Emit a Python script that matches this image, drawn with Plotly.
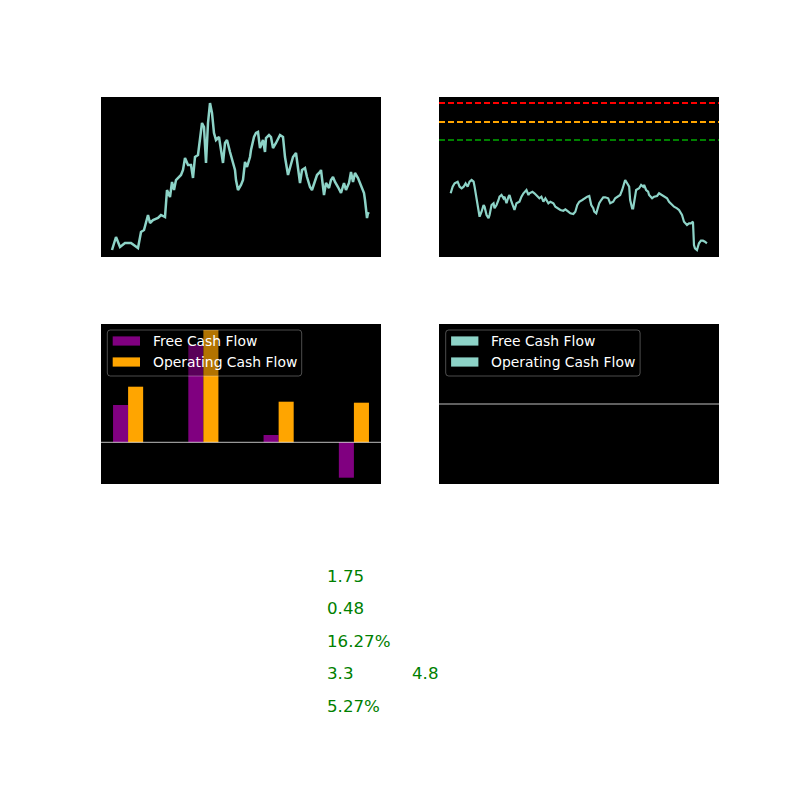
import plotly.graph_objects as go

# ---------------- data ----------------
price_days = [0, 4, 8, 13, 19, 24, 26, 29, 32, 36, 38, 41, 46, 49, 53, 55, 58, 60, 62, 64,
              69, 71, 73, 76, 79, 81, 83, 86, 88, 90, 92, 94, 96, 98, 100, 102, 104, 107, 109, 111,
              113, 115, 118, 120, 123, 124, 126, 129, 131, 133, 135, 138, 139, 142, 144, 146, 148, 151, 153, 154,
              157, 159, 161, 164, 168, 171, 173, 176, 179, 181, 184, 186, 188, 190, 193, 195, 198, 200, 203, 205,
              208, 209, 212, 214, 217, 219, 221, 223, 226, 229, 232, 234, 237, 239, 241, 243, 246, 249, 252, 253,
              255, 256, 257]
price_vals = [2.0, 4.6, 2.6, 3.4, 3.4, 2.6, 2.4, 5.6, 6.0, 9.0, 7.4, 8.0, 8.4, 9.0, 8.6, 14.0, 12.6, 15.6, 14.0, 16.0,
              17.0, 18.0, 20.4, 19.0, 19.0, 16.4, 20.6, 21.0, 24.6, 27.4, 26.6, 19.4, 27.4, 31.4, 29.4, 25.4, 24.0, 24.6, 22.0, 19.4,
              23.4, 24.0, 21.6, 20.0, 18.0, 16.0, 14.0, 15.0, 16.0, 19.6, 18.6, 20.6, 22.0, 24.6, 25.4, 25.6, 22.4, 24.0, 21.6, 24.4,
              25.0, 24.6, 22.4, 23.4, 25.0, 24.6, 20.6, 17.0, 19.0, 20.6, 21.4, 18.0, 15.4, 18.0, 18.4, 16.6, 14.6, 14.0, 16.0, 17.0,
              17.6, 18.0, 13.0, 15.4, 14.4, 16.0, 16.6, 15.6, 14.6, 13.4, 15.4, 14.0, 15.4, 17.6, 15.6, 17.4, 16.4, 15.0, 13.4, 12.0,
              8.4, 9.4, 9.2]

ratio_days = [0, 2, 4, 7, 9, 11, 13, 15, 17, 19, 21, 23, 24, 26, 28, 29, 31, 33, 34, 36,
              38, 39, 41, 43, 44, 46, 48, 49, 51, 53, 54, 56, 58, 59, 61, 63, 64, 66, 69, 71,
              73, 76, 78, 79, 82, 84, 87, 89, 91, 93, 95, 98, 100, 103, 105, 108, 110, 113, 115, 118,
              120, 123, 125, 127, 129, 132, 134, 137, 139, 141, 143, 144, 146, 148, 149, 151, 153, 155, 158, 160,
              163, 165, 168, 170, 172, 174, 175, 177, 179, 180, 182, 183, 185, 186, 189, 191, 193, 194, 196, 198,
              199, 202, 204, 207, 209, 212, 214, 217, 219, 222, 224, 227, 229, 232, 234, 237, 239, 241, 243, 244,
              245, 247, 249, 251, 253, 255, 257]
ratio_vals = [6.67, 7.33, 7.67, 7.83, 7.33, 7.17, 7.33, 7.67, 7.33, 7.83, 8.0, 7.83, 7.33, 6.0, 4.67, 4.33, 4.83, 5.5, 5.33, 4.5,
              4.17, 4.5, 5.5, 5.67, 5.17, 5.5, 6.0, 6.33, 6.5, 6.17, 6.33, 5.67, 6.33, 6.5, 5.83, 5.17, 5.0, 5.67, 5.83, 6.33,
              6.67, 7.0, 6.5, 6.67, 6.83, 6.67, 6.33, 6.17, 6.33, 5.83, 6.17, 5.67, 5.83, 5.67, 5.33, 5.17, 5.0, 4.93, 5.07, 4.83,
              4.67, 4.6, 4.83, 5.5, 5.83, 6.0, 6.17, 6.33, 6.4, 5.5, 5.17, 4.83, 4.67, 5.33, 5.67, 6.0, 6.27, 6.27, 6.17, 5.67,
              5.83, 6.17, 6.33, 6.5, 7.0, 7.67, 8.0, 7.67, 7.33, 6.0, 5.17, 5.17, 6.67, 7.0, 7.17, 7.5, 7.33, 7.5, 7.0, 6.83,
              6.5, 6.17, 6.33, 6.4, 6.67, 6.5, 6.33, 6.17, 5.83, 5.5, 5.33, 5.17, 5.0, 4.5, 3.83, 3.5, 3.67, 3.67, 3.83, 1.5,
              1.17, 1.0, 1.67, 1.93, 1.93, 1.83, 1.67]
ratio_thresholds = [15.7, 13.8, 12.0]
threshold_colors = ["red", "orange", "green"]

cf_years = ["2020", "2021", "2022", "2023"]
free_cash_flow = [373, 973, 73, -354]
operating_cash_flow = [556, 1123, 406, 396]
legend_labels = ["Free Cash Flow", "Operating Cash Flow"]

stat_values = ["1.75", "0.48", "16.27%", "3.3", "5.27%"]
stat_extra = "4.8"

# ---------------- helpers ----------------
W = H = 800
OFF = 8  # page body margin
def px(x):
    return (x - OFF) / W
def py(y):
    return 1 - (y - OFF) / H

TEAL = "#8dd3c7"
FONT = "DejaVu Sans"

def rounded_rect(x0, y0, x1, y1, r=3):
    X0, X1 = px(x0), px(x1)
    Y0, Y1 = py(y0), py(y1)
    rx, ry = r / W, r / H
    return (f"M{X0+rx},{Y0} L{X1-rx},{Y0} Q{X1},{Y0} {X1},{Y0-ry} "
            f"L{X1},{Y1+ry} Q{X1},{Y1} {X1-rx},{Y1} L{X0+rx},{Y1} "
            f"Q{X0},{Y1} {X0},{Y1+ry} L{X0},{Y0-ry} Q{X0},{Y0} {X0+rx},{Y0} Z")

fig = go.Figure()

# top-left price line
fig.add_trace(go.Scatter(x=price_days, y=price_vals, mode="lines",
                         line=dict(color=TEAL, width=2.5), xaxis="x", yaxis="y", showlegend=False))
# top-right ratio line
fig.add_trace(go.Scatter(x=ratio_days, y=ratio_vals, mode="lines",
                         line=dict(color=TEAL, width=2.2), xaxis="x2", yaxis="y2", showlegend=False))
# bottom-left bars
fig.add_trace(go.Bar(x=cf_years, y=free_cash_flow, offset=-0.2, width=0.2,
                     marker=dict(color="purple", line=dict(width=0)),
                     xaxis="x3", yaxis="y3", showlegend=False))
fig.add_trace(go.Bar(x=cf_years, y=operating_cash_flow, offset=0.0, width=0.2,
                     marker=dict(color="orange", line=dict(width=0)),
                     xaxis="x3", yaxis="y3", showlegend=False))
# bottom-right empty
fig.add_trace(go.Scatter(x=[None], y=[None], mode="lines", xaxis="x4", yaxis="y4", showlegend=False))

ax = dict(showticklabels=False, showgrid=False, zeroline=False, showline=False, ticks="", fixedrange=True)
xl = [px(101), px(381)]
xr = [px(439), px(719)]
yt = [py(257), py(97)]
yb = [py(484), py(324)]

shapes = []
for val, col in zip(ratio_thresholds, threshold_colors):
    shapes.append(dict(type="line", xref="x2 domain", yref="y2", x0=0, x1=1, y0=val, y1=val,
                       line=dict(color=col, width=2, dash="6px,3px"), layer="above"))
shapes.append(dict(type="line", xref="x3 domain", yref="y3", x0=0, x1=1, y0=0, y1=0,
                   line=dict(color="rgba(255,255,255,0.75)", width=1), layer="above"))
shapes.append(dict(type="line", xref="x4 domain", yref="y4", x0=0, x1=1, y0=0, y1=0,
                   line=dict(color="rgba(255,255,255,0.75)", width=1), layer="above"))

annotations = []
# manual legends
for dx, cols in [(0, ["purple", "orange"]), (338.4, [TEAL, TEAL])]:
    shapes.append(dict(type="path", xref="paper", yref="paper",
                       path=rounded_rect(107.3 + dx, 330, 301.7 + dx, 376),
                       fillcolor="rgba(0,0,0,0.3)", line=dict(color="rgba(255,255,255,0.3)", width=1),
                       layer="above"))
    for i, (lab, c) in enumerate(zip(legend_labels, cols)):
        yc = 341 + 21 * i
        shapes.append(dict(type="rect", xref="paper", yref="paper",
                           x0=px(112.7 + dx), x1=px(140 + dx), y0=py(yc + 4.6), y1=py(yc - 4.6),
                           fillcolor=c, line=dict(width=0), layer="above"))
        annotations.append(dict(text=lab, xref="paper", yref="paper", x=px(151 + dx), y=py(yc),
                                xanchor="left", yanchor="middle", showarrow=False,
                                font=dict(family=FONT, size=13.9, color="white")))

# stats text
row_y = [576, 608.5, 641, 673.5, 706]
for v, yy in zip(stat_values, row_y):
    annotations.append(dict(text=v, xref="paper", yref="paper", x=px(325), y=py(yy),
                            xanchor="left", yanchor="middle", showarrow=False,
                            font=dict(family=FONT, size=16.67, color="green")))
annotations.append(dict(text=stat_extra, xref="paper", yref="paper", x=px(410), y=py(row_y[3]),
                        xanchor="left", yanchor="middle", showarrow=False,
                        font=dict(family=FONT, size=16.67, color="green")))

fig.update_layout(
    width=W, height=H, margin=dict(l=0, r=0, t=0, b=0),
    paper_bgcolor="white", plot_bgcolor="black",
    showlegend=False, barmode="overlay",
    xaxis=dict(domain=xl, anchor="y", range=[-11, 269], **ax),
    yaxis=dict(domain=yt, anchor="x", range=[0.6, 32.6], **ax),
    xaxis2=dict(domain=xr, anchor="y2", range=[-11.7, 269.1], **ax),
    yaxis2=dict(domain=yt, anchor="x2", range=[0.3, 16.3], **ax),
    xaxis3=dict(domain=xl, anchor="y3", type="category", range=[-0.36, 3.36], **ax),
    yaxis3=dict(domain=yb, anchor="x3", range=[-417, 1183], **ax),
    xaxis4=dict(domain=xr, anchor="y4", range=[0, 1], **ax),
    yaxis4=dict(domain=yb, anchor="x4", range=[-1, 1], **ax),
    shapes=shapes, annotations=annotations,
)

fig.write_html("out.html")
